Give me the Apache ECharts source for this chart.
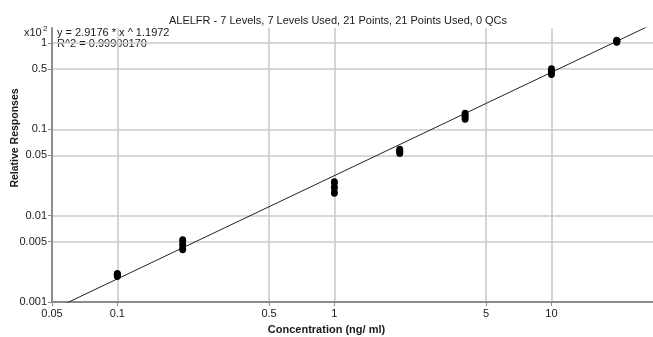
<!DOCTYPE html>
<html>
<head>
<meta charset="utf-8">
<script src="https://cdn.jsdelivr.net/npm/echarts@6/dist/echarts.min.js"></script>
<style>
  html, body { margin: 0; padding: 0; background: #fff; }
  #chart { width: 653px; height: 337px; }
</style>
</head>
<body>
<div id="chart"></div>
<script>
// Calibration levels (ng/ml) and the three replicate relative responses (x10^2) at each level
const levels = [0.1, 0.2, 1, 2, 4, 10, 20];
const rep1 = [0.0020, 0.0052, 0.0245, 0.058, 0.152, 0.50, 1.07];
const rep2 = [0.0021, 0.0046, 0.0212, 0.0555, 0.142, 0.47, 1.05];
const rep3 = [0.0021, 0.0041, 0.0185, 0.0535, 0.133, 0.44, 1.04];

// Power fit y = a * x^b (responses plotted in units of 10^2)
const fitA = 2.9176;
const fitB = 1.1972;
const fitR2 = '0.99900170';
const responseScale = 100;

// Axis ticks
const xTicks = [0.05, 0.1, 0.5, 1, 5, 10];
const yTicks = [0.001, 0.005, 0.01, 0.05, 0.1, 0.5, 1];
const xRange = [0.05, 30];
const yRange = [0.001, 1.5];

const points = [];
levels.forEach((c, i) => {
  points.push([c, rep1[i]], [c, rep2[i]], [c, rep3[i]]);
});

const fitLine = xRange.map(x => [x, fitA / responseScale * Math.pow(x, fitB)]);

const font = 'Liberation Sans, Arial, sans-serif';
const chart = echarts.init(document.getElementById('chart'), null, { renderer: 'canvas' });

chart.setOption({
  animation: false,
  backgroundColor: '#ffffff',
  title: {
    text: 'ALELFR - 7 Levels, 7 Levels Used, 21 Points, 21 Points Used, 0 QCs',
    left: 333, top: 10, textAlign: 'center',
    textStyle: { fontFamily: font, fontSize: 11, fontWeight: 'normal', color: '#1a1a1a' }
  },
  grid: { left: 52, top: 28, width: 603, height: 274, containLabel: false, outerBoundsMode: 'none' },
  xAxis: {
    type: 'log', logBase: 10, min: xRange[0], max: xRange[1],
    name: 'Concentration (ng/ ml)', nameLocation: 'middle', nameGap: 22, nameMoveOverlap: false,
    nameTextStyle: { fontFamily: font, fontSize: 11, fontWeight: 'bold', color: '#1a1a1a',
      padding: [0, 54, 0, 0] },
    axisLine: { show: true, lineStyle: { color: '#8c8c8c', width: 2 } },
    axisTick: { show: true, customValues: xTicks, length: 4, lineStyle: { color: '#8c8c8c' } },
    axisLabel: { customValues: xTicks, fontFamily: font, fontSize: 11, color: '#1a1a1a', margin: 6,
      formatter: v => String(v) },
    splitLine: { show: true, lineStyle: { color: '#cbcbcb', width: 1.6 } },
    minorSplitLine: { show: false }
  },
  yAxis: {
    type: 'log', logBase: 10, min: yRange[0], max: yRange[1],
    name: 'Relative Responses', nameLocation: 'middle', nameGap: 31, nameRotate: 90, nameMoveOverlap: false,
    nameTextStyle: { fontFamily: font, fontSize: 10.5, fontWeight: 'bold', color: '#1a1a1a',
      padding: [0, 0, 0, 54] },
    axisLine: { show: true, lineStyle: { color: '#8c8c8c', width: 2 } },
    axisTick: { show: true, customValues: yTicks, length: 4, lineStyle: { color: '#8c8c8c' } },
    axisLabel: { customValues: yTicks, fontFamily: font, fontSize: 11, color: '#1a1a1a', margin: 5,
      formatter: v => String(v) },
    splitLine: { show: true, lineStyle: { color: '#cbcbcb', width: 1.6 } }
  },
  graphic: [
    { type: 'text', left: 24, top: 27,
      style: { text: 'x10', fontFamily: font, fontSize: 11, fill: '#1a1a1a' } },
    { type: 'text', left: 43, top: 25,
      style: { text: '2', fontFamily: font, fontSize: 8, fill: '#1a1a1a' } },
    { type: 'text', left: 57, top: 27,
      style: { text: 'y = ' + fitA + ' * x ^ ' + fitB, fontFamily: font, fontSize: 11, fill: '#1a1a1a' } },
    { type: 'text', left: 57, top: 38,
      style: { text: 'R^2 = ' + fitR2, fontFamily: font, fontSize: 11, fill: '#1a1a1a' } }
  ],
  series: [
    {
      type: 'line', data: fitLine, showSymbol: false, clip: true,
      lineStyle: { color: '#222', width: 1 }, z: 2
    },
    {
      type: 'scatter', data: points, symbol: 'circle', symbolSize: [7, 8],
      itemStyle: { color: '#000', opacity: 1 }, z: 3
    }
  ]
});
</script>
</body>
</html>
